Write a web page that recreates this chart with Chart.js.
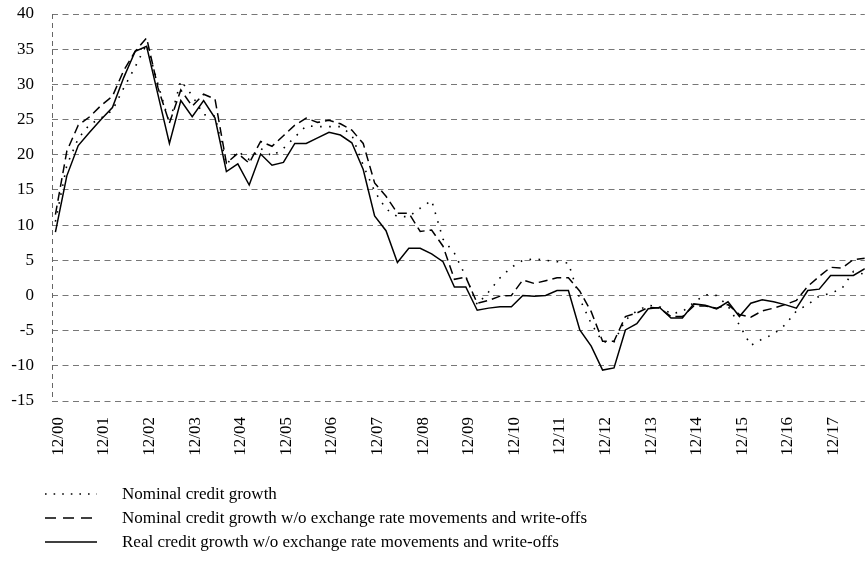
<!DOCTYPE html>
<html>
<head>
<meta charset="utf-8">
<script src="https://cdn.jsdelivr.net/npm/chart.js@4/dist/chart.umd.min.js"></script>
<style>
  html, body { margin: 0; padding: 0; background: #fff; }
  canvas { display: block; }
</style>
</head>
<body>
<canvas id="myChart" width="867" height="570"></canvas>
<script>
// quarterly observations, 12/00 .. 9/18
var tickLabels = ['12/00', '12/01', '12/02', '12/03', '12/04', '12/05', '12/06', '12/07', '12/08',
                  '12/09', '12/10', '12/11', '12/12', '12/13', '12/14', '12/15', '12/16', '12/17'];

var nominal = [10.5, 18.5, 22.3, 24.3, 25.2, 26.3, 29.5, 32.5, 35.7, 30, 24.5, 30.5, 28.4, 25.7, 25.5,
               18.6, 20.5, 19.3, 20.9, 19.8, 20.9, 22.5, 24.1, 24, 24, 24, 22.8, 18.5, 14.8, 12.3,
               11.2, 11.2, 12.4, 13.5, 8, 6, 2.7, -1.3, 0.5, 2.5, 4.0, 5.0, 5.2, 5.0, 4.8, 4.6,
               -0.5, -4, -6.6, -6.6, -3.5, -2.2, -1.4, -1.6, -2.6, -2.3, -1, 0.1, 0, -1.5,
               -4.2, -7.1, -6.2, -5.5, -4.2, -2.2, -1.3, -0.1, 0.3, 1.0, 3.4, 3.0];

var nominalAdj = [11.5, 20.5, 24.2, 25.4, 27, 28.3, 32, 34.7, 36.6, 29.5, 24.5, 29.2, 26.9, 28.6, 27.9,
                  18.8, 20.2, 18.8, 21.9, 21.2, 22.7, 24.2, 25.2, 24.6, 24.9, 24.4, 23.5, 21.6, 16.0, 14.1,
                  11.7, 11.7, 9.1, 9.3, 7.0, 2.3, 2.6, -1.1, -0.7, -0.1, 0, 2.2, 1.7, 2.1, 2.5, 2.5,
                  0.6, -2.3, -6.5, -6.5, -3.0, -2.5, -1.7, -1.8, -3.0, -3.0, -1.5, -1.5, -1.8, -1.3,
                  -2.7, -3.1, -2.2, -1.8, -1.3, -0.7, 1.3, 2.7, 4.0, 3.9, 5.1, 5.3];

var realAdj = [9, 17, 21.3, 23.2, 25, 26.7, 31, 34.7, 35.4, 28.5, 21.6, 27.7, 25.4, 27.7, 25.2,
               17.6, 18.7, 15.7, 20.1, 18.5, 18.9, 21.6, 21.6, 22.4, 23.2, 22.8, 21.7, 17.9, 11.3, 9.2,
               4.7, 6.7, 6.7, 5.9, 4.8, 1.2, 1.2, -2.1, -1.8, -1.6, -1.6, 0, -0.1, 0, 0.7, 0.7,
               -4.9, -7.2, -10.6, -10.3, -4.9, -4.0, -1.9, -1.7, -3.2, -3.2, -1.2, -1.4, -1.9, -0.9,
               -3.0, -1.1, -0.6, -0.9, -1.3, -1.8, 0.7, 0.9, 2.85, 2.85, 2.85, 3.8];

var seriesNames = ['Nominal credit growth',
                   'Nominal credit growth w/o exchange rate movements and write-offs',
                   'Real credit growth w/o exchange rate movements and write-offs'];

function toPoints(arr) {
    return arr.map(function (v, i) { return { x: i, y: v }; });
}

var serif = "'Liberation Serif', 'Times New Roman', serif";

// legend drawn as a vertical list under the axis
var legendPlugin = {
    id: 'listLegend',
    afterDraw: function (chart) {
        var ctx = chart.ctx;
        var rows = [494, 518, 542];
        chart.data.datasets.forEach(function (ds, k) {
            ctx.save();
            ctx.strokeStyle = '#000';
            ctx.lineWidth = ds.borderWidth;
            ctx.setLineDash(ds.legendDash);
            ctx.beginPath();
            ctx.moveTo(45, rows[k]);
            ctx.lineTo(97, rows[k]);
            ctx.stroke();
            ctx.setLineDash([]);
            ctx.fillStyle = '#000';
            ctx.font = '17px ' + serif;
            ctx.textBaseline = 'middle';
            ctx.fillText(ds.label, 122, rows[k] + 1);
            ctx.restore();
        });
    }
};

// dashed left axis line
var leftAxisPlugin = {
    id: 'leftAxis',
    beforeDatasetsDraw: function (chart) {
        var a = chart.chartArea;
        var ctx = chart.ctx;
        ctx.save();
        ctx.strokeStyle = '#666';
        ctx.lineWidth = 1;
        ctx.setLineDash([5, 4]);
        ctx.beginPath();
        ctx.moveTo(Math.round(a.left) + 0.5, a.top);
        ctx.lineTo(Math.round(a.left) + 0.5, a.bottom);
        ctx.stroke();
        ctx.restore();
    }
};

var ctx = document.getElementById('myChart').getContext('2d');
var myChart = new Chart(ctx, {
    type: 'line',
    data: {
        datasets: [{
            label: seriesNames[0],
            data: toPoints(nominal),
            borderColor: '#000',
            borderWidth: 1.6,
            borderDash: [1.6, 7.5],
            legendDash: [1.6, 7],
            pointRadius: 0,
            tension: 0
        }, {
            label: seriesNames[1],
            data: toPoints(nominalAdj),
            borderColor: '#000',
            borderWidth: 1.5,
            borderDash: [9, 5],
            legendDash: [11, 7],
            pointRadius: 0,
            tension: 0
        }, {
            label: seriesNames[2],
            data: toPoints(realAdj),
            borderColor: '#000',
            borderWidth: 1.5,
            legendDash: [],
            pointRadius: 0,
            tension: 0
        }]
    },
    options: {
        responsive: false,
        animation: false,
        layout: {
            padding: { left: 10, right: 0, top: 14, bottom: 113 }
        },
        plugins: {
            legend: { display: false },
            tooltip: { enabled: false }
        },
        scales: {
            x: {
                type: 'linear',
                min: -0.3,
                max: 71,
                afterBuildTicks: function (scale) {
                    scale.ticks = tickLabels.map(function (t, k) { return { value: k * 4 }; });
                },
                afterFit: function (scale) {
                    scale.height = 56;
                },
                grid: { display: false, drawTicks: false },
                border: { display: false },
                ticks: {
                    autoSkip: false,
                    maxRotation: 90,
                    minRotation: 90,
                    padding: 16,
                    labelOffset: 3,
                    color: '#000',
                    font: { family: serif, size: 17 },
                    callback: function (value) {
                        return tickLabels[Math.round(value / 4)];
                    }
                }
            },
            y: {
                min: -15,
                max: 40,
                afterFit: function (scale) {
                    scale.width = 42;
                    scale.paddingTop = 0;
                    scale.paddingBottom = 0;
                },
                grid: {
                    color: '#777',
                    lineWidth: 1,
                    drawTicks: false
                },
                border: { display: false, dash: [6, 4.5] },
                ticks: {
                    stepSize: 5,
                    padding: 18,
                    color: '#000',
                    font: { family: serif, size: 17 }
                }
            }
        }
    },
    plugins: [legendPlugin, leftAxisPlugin]
});
</script>
</body>
</html>
